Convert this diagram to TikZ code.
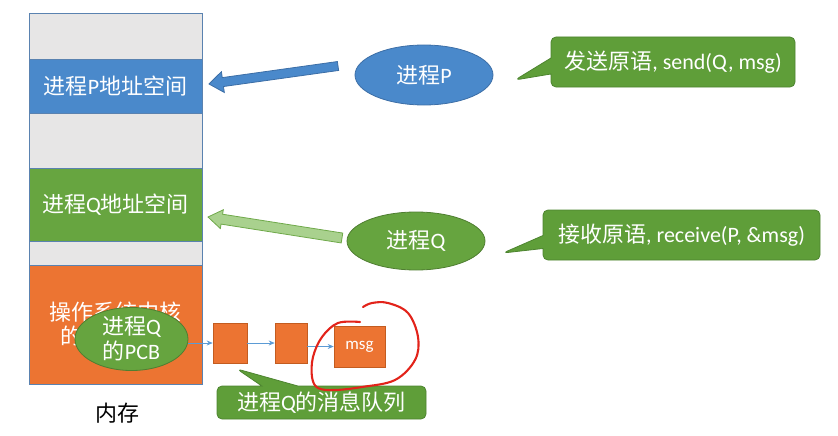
\documentclass[tikz,border=0pt]{standalone}
\usepackage{fontspec}
\setmainfont{Carlito}
\newfontfamily\cjk{Noto Sans CJK SC}
\usetikzlibrary{shapes.geometric,shapes.callouts,calc,arrows.meta}
\newcommand{\zh}[1]{{\cjk #1}}
\definecolor{memgray}{HTML}{E7E6E6}
\definecolor{memborder}{HTML}{5A82B0}
\definecolor{pblue}{HTML}{4A89CB}
\definecolor{pblueb}{HTML}{3C6EA6}
\definecolor{mgreen}{HTML}{67A540}
\definecolor{cgreen}{HTML}{5F9E39}
\definecolor{cgreenb}{HTML}{4D8430}
\definecolor{egreen}{HTML}{66A43F}
\definecolor{egreenb}{HTML}{4F7E31}
\definecolor{korange}{HTML}{EC7432}
\definecolor{korangeb}{HTML}{C35C20}
\definecolor{lgreen}{HTML}{A9D18E}
\definecolor{lgreenb}{HTML}{6FA94A}
\definecolor{connblue}{HTML}{5B9BD5}
\definecolor{annred}{HTML}{E2231A}
\begin{document}
\begin{tikzpicture}[x=1pt,y=-1pt,
  bigfont/.style={font=\fontsize{22}{24}\selectfont},
  seg/.style={draw=memborder, line width=0.8pt, minimum width=173pt, inner sep=0pt, outer sep=0pt, text=white, bigfont},
  proc/.style={ellipse, line width=0.8pt, inner sep=0pt, text=white, bigfont},
  qbox/.style={rectangle, fill=korange, draw=korangeb, line width=0.6pt, inner sep=0pt, text=white},
  callbox/.style={rectangle callout, rounded corners=5pt, fill=cgreen, draw=cgreenb, line width=0.8pt, text=white, bigfont, inner sep=0pt},
  conn/.style={draw=connblue, line width=0.7pt, -{Stealth[length=6pt,width=5pt]}},
]
\useasboundingbox (0,0) rectangle (838,436);

% memory column
\node[seg, fill=memgray, minimum height=46pt] (g1) at (115.5,36) {};
\node[seg, fill=pblue, minimum height=54pt] (pspace) at (115.5,86) {\zh{进程}P\zh{地址空间}};
\node[seg, fill=memgray, minimum height=55pt] (g2) at (115.5,140.5) {};
\node[seg, fill=mgreen, minimum height=73pt] (qspace) at (115.5,204.5) {\zh{进程}Q\zh{地址空间}};
\node[seg, fill=memgray, minimum height=24pt] (g3) at (115.5,253) {};
\node[seg, fill=korange, minimum height=119pt, align=center] (kernel) at (115.5,324.5) {\zh{操作系统内核}\\\zh{的地址空间}};
\node[bigfont] (mem) at (117,413) {\zh{内存}};

% PCB
\node[proc, fill=egreen, draw=egreenb, minimum width=113pt, minimum height=62pt, align=center, font=\fontsize{22}{25}\selectfont] (pcb) at (131.5,339) {\zh{进程}Q\\\zh{的}PCB};

% message queue
\node[qbox, minimum width=34pt, minimum height=40pt] (b1) at (230,343) {};
\node[qbox, minimum width=32pt, minimum height=40pt] (b2) at (291,343) {};
\node[qbox, minimum width=51pt, minimum height=41pt, font=\fontsize{17}{19}\selectfont] (msg) at (359.5,346.5) {msg};
\draw[conn] (pcb.east |- b1) -- (b1.west);
\draw[conn] (b1) -- (b2.west);
\draw[conn] (b2.east |- msg) -- (msg.west);

% processes
\node[proc, fill=pblue, draw=pblueb, minimum width=138pt, minimum height=60pt] (P) at (424,75) {\zh{进程}P};
\node[proc, fill=egreen, draw=egreenb, minimum width=138pt, minimum height=58pt] (Q) at (416,241) {\zh{进程}Q};

% block arrows
\coordinate (Pt) at (338,66);
\coordinate (Ph) at (209,84);
\coordinate (Pb) at ($(Ph)!14pt!(Pt)$);
\filldraw[fill=pblue, draw=pblueb, line width=0.8pt, line join=miter]
  ($(Pt)!4.5pt!90:(Ph)$) -- ($(Pb)!4.5pt!90:(Ph)$) -- ($(Pb)!10.5pt!90:(Ph)$) -- (Ph)
  -- ($(Pb)!10.5pt!-90:(Ph)$) -- ($(Pb)!4.5pt!-90:(Ph)$) -- ($(Pt)!4.5pt!-90:(Ph)$) -- cycle;
\coordinate (Qt) at (342,238);
\coordinate (Qh) at (208,217);
\coordinate (Qb) at ($(Qh)!14pt!(Qt)$);
\filldraw[fill=lgreen, draw=lgreenb, line width=0.8pt, line join=miter]
  ($(Qt)!5pt!90:(Qh)$) -- ($(Qb)!5pt!90:(Qh)$) -- ($(Qb)!9.5pt!90:(Qh)$) -- (Qh)
  -- ($(Qb)!9.5pt!-90:(Qh)$) -- ($(Qb)!5pt!-90:(Qh)$) -- ($(Qt)!5pt!-90:(Qh)$) -- cycle;

% callouts
\node[callbox, minimum width=244pt, minimum height=50pt, callout absolute pointer={(515,80)}, callout pointer width=16pt] (sendc) at (673,62) {\zh{发送原语}, send(Q, msg)};
\node[callbox, minimum width=277pt, minimum height=50pt, callout absolute pointer={(503,253)}, callout pointer width=13pt] (recvc) at (681.5,235) {\zh{接收原语}, receive(P, \&msg)};
\node[callbox, minimum width=209pt, minimum height=33pt, callout absolute pointer={(237,369)}, callout pointer width=36pt] (queuec) at (321.5,402.5) {\zh{进程}Q\zh{的消息队列}};

% red hand-drawn mark
\draw[annred, line width=2.1pt, line cap=round, line join=round] plot[smooth, tension=0.6] coordinates {
 (360,322) (338,323) (322,337) (313,357) (312,377) (318,388) (335,390) (362,387)
 (395,380) (415,360) (418,337) (408,313) (388,303) (372,303) (363,307)};
\end{tikzpicture}
\end{document}
